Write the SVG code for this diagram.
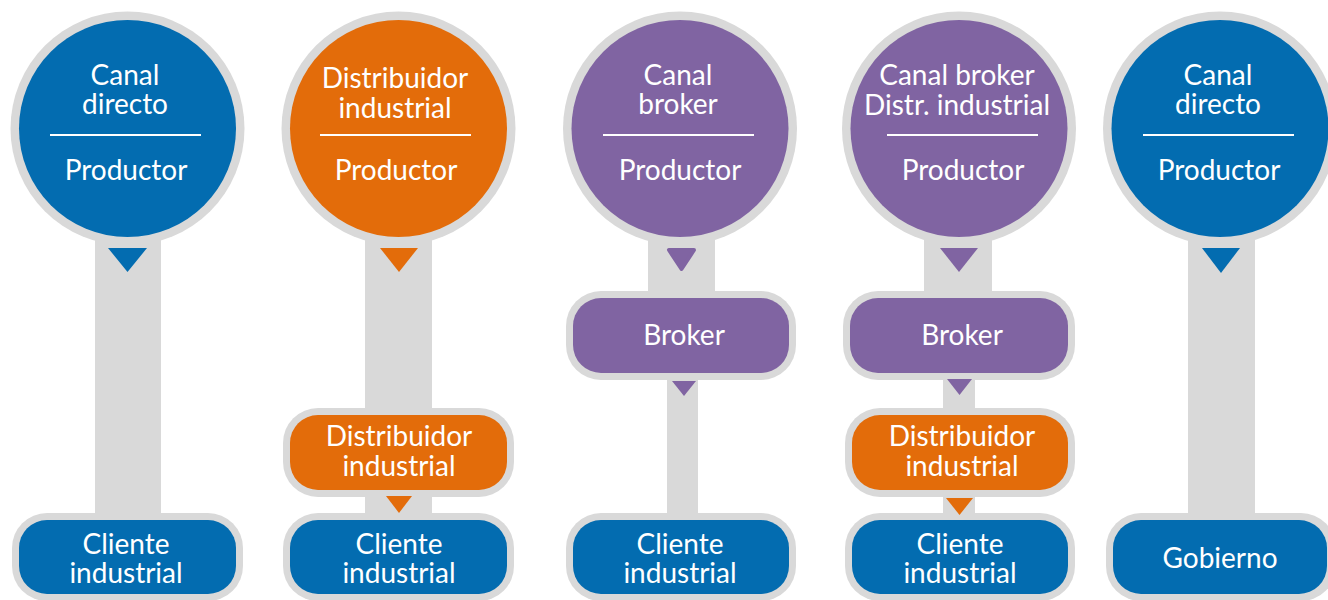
<svg xmlns="http://www.w3.org/2000/svg" width="1328" height="600" viewBox="0 0 1328 600">
<style>
.ring{fill:#d9d9d9}
.blue{fill:#036cb0}
.orange{fill:#e36c0a}
.purple{fill:#8064a2}
.stem{fill:#d9d9d9}
.sep{stroke:#ffffff;stroke-width:2.2}
text{font-family:Lato,"Liberation Sans",sans-serif;font-size:28px;fill:#ffffff;text-anchor:middle}
</style>
<rect width="1328" height="600" fill="#ffffff"/>

<!-- Column 1 -->
<g id="c1-productor">
<circle class="ring" cx="127.5" cy="128.5" r="117"/>
<circle class="blue" cx="127.5" cy="128.5" r="108.5"/>
<text x="125" y="85">Canal</text>
<text x="125" y="114">directo</text>
<line class="sep" x1="50" y1="135" x2="201" y2="135"/>
<text x="126" y="180">Productor</text>
</g>
<g id="c1-cliente">
<rect class="ring" x="12" y="513" width="231" height="88" rx="35"/>
<rect class="blue" x="19" y="520" width="217" height="74" rx="28"/>
<text x="126" y="554">Cliente</text>
<text x="126" y="583">industrial</text>
</g>

<!-- Column 2 -->
<g id="c2-productor">
<circle class="ring" cx="398.5" cy="128.5" r="117"/>
<circle class="orange" cx="398.5" cy="128.5" r="108.5"/>
<text x="395" y="88">Distribuidor</text>
<text x="395" y="118">industrial</text>
<line class="sep" x1="320" y1="135" x2="471" y2="135"/>
<text x="396" y="180">Productor</text>
</g>
<g id="c2-distribuidor">
<rect class="ring" x="283" y="408" width="231" height="89" rx="35"/>
<rect class="orange" x="290" y="415" width="217" height="75" rx="28"/>
<text x="399" y="446">Distribuidor</text>
<text x="399" y="476">industrial</text>
</g>
<g id="c2-cliente">
<rect class="ring" x="283" y="513" width="231" height="88" rx="35"/>
<rect class="blue" x="290" y="520" width="217" height="74" rx="28"/>
<text x="399" y="554">Cliente</text>
<text x="399" y="583">industrial</text>
</g>

<!-- Column 3 -->
<g id="c3-productor">
<circle class="ring" cx="680" cy="128.5" r="117"/>
<circle class="purple" cx="680" cy="128.5" r="108.5"/>
<text x="678" y="85">Canal</text>
<text x="678" y="114">broker</text>
<line class="sep" x1="603" y1="135" x2="754" y2="135"/>
<text x="680" y="180">Productor</text>
</g>
<g id="c3-broker">
<rect class="ring" x="566" y="291" width="230" height="89" rx="35"/>
<rect class="purple" x="573" y="298" width="216" height="75" rx="28"/>
<text x="684" y="345">Broker</text>
</g>
<g id="c3-cliente">
<rect class="ring" x="566" y="513" width="230" height="88" rx="35"/>
<rect class="purple" x="573" y="520" width="216" height="74" rx="28" style="fill:#036cb0"/>
<text x="680" y="554">Cliente</text>
<text x="680" y="583">industrial</text>
</g>

<!-- Column 4 -->
<g id="c4-productor">
<circle class="ring" cx="959" cy="128.5" r="117"/>
<circle class="purple" cx="959" cy="128.5" r="108.5"/>
<text x="957" y="85">Canal broker</text>
<text x="957" y="115">Distr. industrial</text>
<line class="sep" x1="887" y1="135" x2="1038" y2="135"/>
<text x="963" y="180">Productor</text>
</g>
<g id="c4-broker">
<rect class="ring" x="843" y="291" width="232" height="89" rx="35"/>
<rect class="purple" x="850" y="298" width="218" height="75" rx="28"/>
<text x="962" y="345">Broker</text>
</g>
<g id="c4-distribuidor">
<rect class="ring" x="845" y="408" width="230" height="89" rx="35"/>
<rect class="orange" x="852" y="415" width="216" height="75" rx="28"/>
<text x="962" y="446">Distribuidor</text>
<text x="962" y="476">industrial</text>
</g>
<g id="c4-cliente">
<rect class="ring" x="845" y="513" width="230" height="88" rx="35"/>
<rect class="blue" x="852" y="520" width="216" height="74" rx="28"/>
<text x="960" y="554">Cliente</text>
<text x="960" y="583">industrial</text>
</g>

<!-- Column 5 -->
<g id="c5-productor">
<circle class="ring" cx="1220" cy="128.5" r="117"/>
<circle class="blue" cx="1220" cy="128.5" r="108.5"/>
<text x="1218" y="85">Canal</text>
<text x="1218" y="114">directo</text>
<line class="sep" x1="1143" y1="135" x2="1294" y2="135"/>
<text x="1219" y="180">Productor</text>
</g>
<g id="c5-gobierno">
<rect class="ring" x="1106" y="513" width="230" height="88" rx="35"/>
<rect class="blue" x="1113" y="520" width="214" height="74" rx="28"/>
<text x="1220" y="568">Gobierno</text>
</g>

<!-- Connectors -->
<g id="connectors">
<!-- col 1 -->
<rect class="stem" x="95" y="238" width="66" height="282"/>
<polygon class="blue" points="108,248 147,248 127.5,272"/>
<!-- col 2 -->
<rect class="stem" x="365" y="238" width="67" height="177"/>
<polygon class="orange" points="380,248 418,248 399,272"/>
<rect class="stem" x="365" y="490" width="67" height="30"/>
<polygon class="orange" points="386,496 412,496 399,513"/>
<!-- col 3 -->
<rect class="stem" x="648" y="238" width="67" height="60"/>
<polygon class="purple" points="669,250 694,250 681.5,269" stroke="#8064a2" stroke-width="4" stroke-linejoin="round"/>
<rect class="stem" x="667" y="373" width="31" height="147"/>
<polygon class="purple" points="672,381 696,381 684,396"/>
<!-- col 4 -->
<rect class="stem" x="924" y="238" width="68" height="60"/>
<polygon class="purple" points="940,248 978,248 959,272"/>
<rect class="stem" x="943" y="373" width="32" height="42"/>
<polygon class="purple" points="947,379 972,379 959.5,395"/>
<rect class="stem" x="943" y="490" width="32" height="30"/>
<polygon class="orange" points="946,498 973,498 959.5,515"/>
<!-- col 5 -->
<rect class="stem" x="1188" y="238" width="67" height="282"/>
<polygon class="blue" points="1202,248 1240,248 1221,273"/>
</g>
</svg>
